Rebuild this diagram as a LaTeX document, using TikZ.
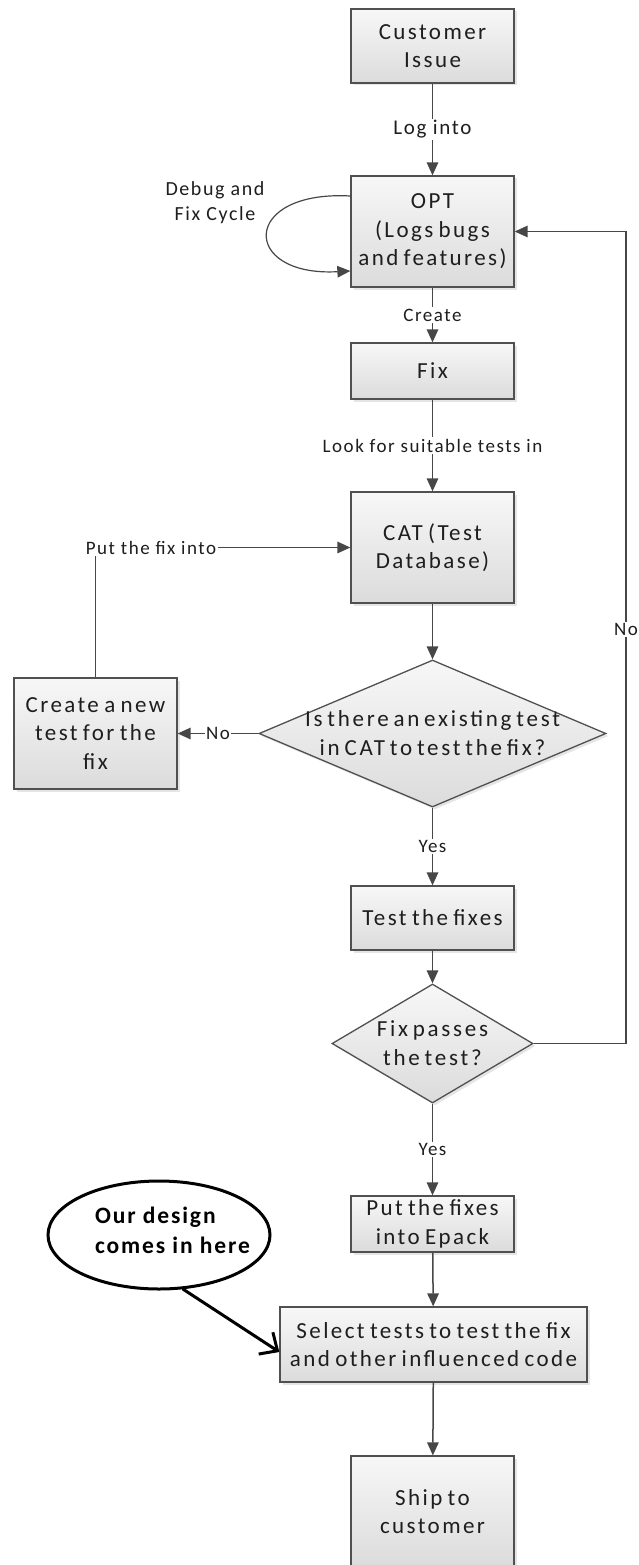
\documentclass[tikz,border=0pt]{standalone}
\usepackage{fontspec}
\setmainfont{Carlito}
\newfontfamily\boxfont[LetterSpace=10.5,WordSpace=0.7]{Carlito}
\newfontfamily\dfont[LetterSpace=12,WordSpace=0.6]{Carlito}
\newfontfamily\lblfont[LetterSpace=8]{Carlito}
\newfontfamily\notefont[LetterSpace=8]{Carlito}
\usetikzlibrary{shapes.geometric, arrows.meta, shadows}

\definecolor{linegray}{HTML}{474747}
\definecolor{boxline}{HTML}{505050}
\definecolor{inktext}{HTML}{1E1E1E}

\tikzset{
  tip/.tip={Triangle[length=13pt,width=11.5pt]},
  flow/.style={draw=linegray, line width=1.5pt, -tip},
  plain/.style={draw=linegray, line width=1.5pt},
  shade/.style={top color=white!97!black, bottom color=white!86!black,
    drop shadow={shadow xshift=2.5pt, shadow yshift=-2.5pt, opacity=0.22, fill=black!45}},
  box/.style={rectangle, draw=boxline, line width=1.3pt, shade, inner sep=0pt,
    align=center, text=inktext, minimum width=163pt,
    font=\boxfont\fontsize{23}{28.5}\selectfont},
  decision/.style={diamond, draw=boxline, line width=1.3pt, shade, inner sep=0pt},
  dtext/.style={align=center, inner sep=0pt, text=inktext,
    font=\dfont\fontsize{23}{29}\selectfont},
  lbl/.style={fill=white, inner sep=1.5pt, text=inktext,
    font=\lblfont\fontsize{19}{23}\selectfont},
  biglbl/.style={lbl, font=\lblfont\fontsize{21}{25}\selectfont},
  sidelbl/.style={align=center, inner sep=0pt, text=inktext,
    font=\lblfont\fontsize{20}{25}\selectfont},
}

\begin{document}
\begin{tikzpicture}[x=1pt, y=-1pt]
  \fill[white] (0,0) rectangle (639,1565);
  \useasboundingbox (0,0) rectangle (639,1565);
  \clip (0,0) rectangle (639,1565);

  % process boxes
  \node[box, minimum height=74pt]  (cust)   at (432.5,46)     {Customer\\Issue};
  \node[box, minimum height=111pt] (opt)    at (432.5,231.5)  {OPT\\(Logs bugs\\and features)};
  \node[box, minimum height=56pt]  (fix)    at (432.5,371)    {Fix};
  \node[box, minimum height=111pt] (cat)    at (432.5,547.5)  {CAT (Test\\Database)};
  \node[box, minimum height=111pt] (create) at (95.5,733.5)   {Create a new\\test for the\\fix};
  \node[box, minimum height=64pt]  (test)   at (432.5,918)    {Test the fixes};
  \node[box, minimum height=56pt]  (epack)  at (432.5,1224)   {Put the fixes\\into Epack};
  \node[box, minimum height=75pt, minimum width=307pt] (select) at (433.5,1344.5)
       {Select tests to test the fix\\and other influenced code};
  \node[box, minimum height=111pt] (ship)   at (432.5,1511.5) {Ship to\\customer};

  % decisions
  \node[decision, minimum width=347pt, minimum height=147pt] (dec1) at (432.5,733.5) {};
  \node[dtext] (dec1txt) at (dec1.center) {Is there an existing test\\in CAT to test the fix?};
  \node[decision, minimum width=201pt, minimum height=119pt] (dec2) at (432.5,1043.5) {};
  \node[dtext] (dec2txt) at (dec2.center) {Fix passes\\the test?};

  % main flow
  \draw[flow] (cust) -- node[biglbl] {Log into} (opt);
  \draw[flow] (opt) -- node[lbl] {Create} (fix);
  \draw[flow] (fix) -- node[lbl] {Look for suitable tests in} (cat);
  \draw[flow] (cat) -- (dec1);
  \draw[flow] (dec1) -- node[lbl] {Yes} (test);
  \draw[flow] (test) -- (dec2);
  \draw[flow] (dec2) -- node[lbl] {Yes} (epack);
  \draw[flow] (epack) -- (select);
  \draw[flow] (select) -- (ship);

  % no existing test: create one and store it in CAT
  \draw[flow] (dec1.west) -- node[lbl] {No} (create.east);
  \node[lbl, fill=none] (putlbl) at (151,547.5) {Put the fix into};
  \draw[plain] (create.north) -- (create.north |- putlbl.south);
  \draw[flow] (putlbl.east) -- (cat.west |- putlbl.east);

  % failed test goes back to OPT
  \coordinate (rc1) at (626,1043.5);
  \coordinate (rc2) at (626,231.5);
  \draw[flow] (dec2.east) -- (rc1) -- node[lbl, pos=0.51] {No} (rc2) -- (opt.east);

  % debug and fix cycle
  \draw[draw=linegray, line width=1.2pt, -tip]
    ([yshift=35.5pt]opt.west) .. controls +(-110,-6) and +(-110,6) .. ([yshift=-39.5pt]opt.west);
  \node[sidelbl] (cyc) at (215,202.5) {Debug and\\Fix Cycle};

  % annotation
  \node[ellipse, draw=black, line width=3pt, minimum width=222pt, minimum height=108pt,
        inner sep=0pt] (note) at (159,1235) {};
  \node[align=left, inner sep=0pt, text=black,
        font=\notefont\bfseries\fontsize{23.5}{30}\selectfont] (notetxt) at (172.5,1230)
        {Our design\\comes in here};
  \draw[black, line width=3pt, line cap=round,
        -{Straight Barb[length=14pt, width=26pt, line width=3pt]}]
    (note.-66) -- ([yshift=-7.5pt]select.west);
\end{tikzpicture}
\end{document}
